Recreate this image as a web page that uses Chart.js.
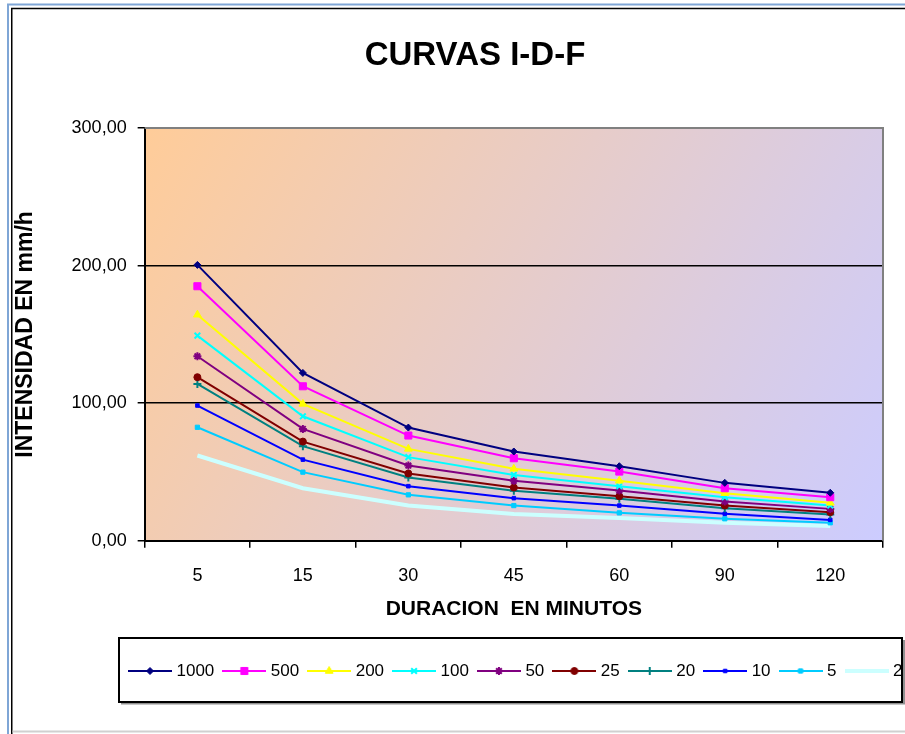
<!DOCTYPE html>
<html><head><meta charset="utf-8">
<script src="https://cdn.jsdelivr.net/npm/chart.js@4.4.1/dist/chart.umd.min.js"></script>
<style>html,body{margin:0;padding:0;background:#fff;overflow:hidden}canvas{display:block}</style>
</head><body>
<canvas id="c" width="905" height="734"></canvas>
<script>
// ---- DATA ----
const durations = ['5', '15', '30', '45', '60', '90', '120'];
const returnPeriods = ['1000', '500', '200', '100', '50', '25', '20', '10', '5', '2'];
const i1000 = [200.5, 122.0, 82.3, 64.9, 54.2, 42.1, 34.9];
const i500  = [185.0, 112.3, 76.5, 60.0, 50.3, 38.2, 31.7];
const i200  = [164.3, 99.5, 66.8, 52.3, 43.6, 34.6, 27.6];
const i100  = [149.1, 90.5, 60.8, 47.9, 39.7, 31.7, 25.6];
const i50   = [134.1, 81.3, 54.7, 43.6, 36.5, 28.6, 23.2];
const i25   = [118.9, 72.1, 48.9, 38.7, 32.4, 25.6, 20.8];
const i20   = [114.0, 68.8, 46.0, 36.3, 30.5, 23.7, 19.1];
const i10   = [98.3, 59.0, 39.7, 31.0, 25.6, 19.6, 15.2];
const i5    = [82.5, 49.9, 33.4, 25.6, 20.3, 16.0, 13.1];
const i2    = [62.0, 38.2, 25.6, 19.4, 16.5, 13.1, 10.7];
const yTicks = [0, 100, 200, 300];

// ---- STYLES ----
const seriesValues = [i1000, i500, i200, i100, i50, i25, i20, i10, i5, i2];
const seriesColors = ['#000080', '#FF00FF', '#FFFF00', '#00FFFF', '#800080', '#800000', '#008080', '#0000FF', '#00CCFF', '#CCFFFF'];
const seriesMarkers = ['rectRot', 'rect', 'triangle', 'crossRot', 'star', 'circle', 'cross', 'rect', 'rect', false];
const markerRadius = [3.5, 5, 4.5, 4, 4, 3.5, 4, 2.5, 3, 0];
const markerBorder = [1, 1, 1, 2, 2, 1, 2, 1, 1, 0];
const lineWidths = [2, 2, 2, 2, 2, 2, 2, 2, 2, 4];
const FONT = '"Liberation Sans", Arial, Helvetica, sans-serif';

function legendSample(i) {
  const cv = document.createElement('canvas');
  cv.width = 44; cv.height = 14;
  const g = cv.getContext('2d');
  g.strokeStyle = seriesColors[i];
  g.lineWidth = lineWidths[i];
  g.beginPath(); g.moveTo(0, 7); g.lineTo(44, 7); g.stroke();
  if (seriesMarkers[i] && Chart.helpers && Chart.helpers.drawPoint) {
    g.fillStyle = seriesColors[i];
    g.strokeStyle = seriesColors[i];
    g.lineWidth = markerBorder[i];
    Chart.helpers.drawPoint(g, {pointStyle: seriesMarkers[i], radius: markerRadius[i], rotation: 0, borderWidth: markerBorder[i]}, 22, 7);
  }
  return cv;
}

const framePlugin = {
  id: 'frame',
  afterLayout(chart) {
    const t = chart.titleBlock;
    if (t) { const dx = 475 - (t.left + t.right) / 2; t.left += dx; t.right += dx; }
    const l = chart.legend;
    if (l) { const dx = 120 - l.left; l.left += dx; l.right += dx; }
  },
  beforeDraw(chart) {
    const ctx = chart.ctx, W = chart.width, H = chart.height;
    ctx.save();
    ctx.fillStyle = '#fff'; ctx.fillRect(0, 0, W, H);
    // outer frame
    ctx.strokeStyle = '#7FA6D6'; ctx.lineWidth = 2;
    ctx.beginPath(); ctx.moveTo(8, H); ctx.lineTo(8, 4.5); ctx.lineTo(W, 4.5); ctx.stroke();
    ctx.strokeStyle = '#000'; ctx.lineWidth = 1.5;
    ctx.beginPath(); ctx.moveTo(11.75, H); ctx.lineTo(11.75, 8.5); ctx.lineTo(W, 8.5); ctx.stroke();
    ctx.strokeStyle = '#D0D0D0'; ctx.lineWidth = 2;
    ctx.beginPath(); ctx.moveTo(12.5, 731.5); ctx.lineTo(W, 731.5); ctx.stroke();
    // plot area gradient
    const a = chart.chartArea;
    const gr = ctx.createLinearGradient(a.left, a.top, a.right, a.bottom);
    gr.addColorStop(0, '#FFCC99');
    gr.addColorStop(1, '#CCCCFF');
    ctx.fillStyle = gr;
    ctx.fillRect(a.left, a.top, a.right - a.left, a.bottom - a.top);
    ctx.restore();
  },
  afterDraw(chart) {
    const ctx = chart.ctx, a = chart.chartArea;
    ctx.save();
    // plot border top/right
    ctx.strokeStyle = '#808080'; ctx.lineWidth = 2;
    ctx.beginPath(); ctx.moveTo(a.left, a.top); ctx.lineTo(a.right, a.top); ctx.lineTo(a.right, a.bottom); ctx.stroke();
    // legend box
    ctx.strokeStyle = '#909090'; ctx.lineWidth = 2;
    ctx.beginPath(); ctx.moveTo(121, 703.5); ctx.lineTo(904, 703.5); ctx.lineTo(904, 640); ctx.stroke();
    ctx.strokeStyle = '#000'; ctx.lineWidth = 2;
    ctx.strokeRect(119, 638, 783, 64);
    ctx.restore();
  }
};

new Chart(document.getElementById('c'), {
  type: 'line',
  data: {
    labels: durations,
    datasets: returnPeriods.map((lbl, i) => ({
      label: lbl,
      data: seriesValues[i],
      borderColor: seriesColors[i],
      backgroundColor: seriesColors[i],
      borderWidth: lineWidths[i],
      pointStyle: seriesMarkers[i] || 'circle',
      pointRadius: markerRadius[i],
      pointBorderWidth: markerBorder[i],
      pointBackgroundColor: seriesColors[i],
      pointBorderColor: seriesColors[i],
      tension: 0,
      fill: false
    }))
  },
  options: {
    responsive: false,
    animation: false,
    devicePixelRatio: 1,
    layout: {padding: {left: 0, right: 22, top: 0, bottom: 44.5}},
    plugins: {
      title: {
        display: true, text: 'CURVAS I-D-F', color: '#000',
        font: {size: 33, weight: 'bold', family: FONT},
        padding: {top: 36.2, bottom: 52.2}
      },
      legend: {
        display: true, position: 'bottom', align: 'start',
        labels: {
          usePointStyle: true, pointStyleWidth: 36, padding: 12, color: '#000',
          font: {size: 17, family: FONT},
          generateLabels(chart) {
            const items = Chart.defaults.plugins.legend.labels.generateLabels(chart);
            items.forEach((it, k) => { it.pointStyle = legendSample(it.datasetIndex != null ? it.datasetIndex : k); });
            return items;
          }
        }
      },
      tooltip: {enabled: false}
    },
    scales: {
      x: {
        type: 'category', offset: true,
        grid: {offset: true, drawOnChartArea: false, color: '#000', tickLength: 7, lineWidth: 1.5},
        border: {color: '#000', width: 2},
        ticks: {font: {size: 18, family: FONT}, color: '#000', padding: 17},
        title: {display: true, text: 'DURACION  EN MINUTOS', color: '#000',
          font: {size: 21, weight: 'bold', family: FONT}, padding: {top: -6.6, bottom: 28.5}}
      },
      y: {
        min: 0, max: 300,
        afterBuildTicks(s) { s.ticks = yTicks.map(v => ({value: v})); },
        grid: {
          color: ctx => (ctx.tick && (ctx.tick.value === 100 || ctx.tick.value === 200)) ? '#000' : 'rgba(0,0,0,0)',
          tickColor: '#000', tickLength: 7, lineWidth: 1.5, tickWidth: 1.5
        },
        border: {color: '#000', width: 2},
        ticks: {font: {size: 18, family: FONT}, color: '#000', padding: 11,
          callback: v => Number(v).toFixed(2).replace('.', ',')},
        title: {display: true, text: 'INTENSIDAD EN mm/h', color: '#000',
          font: {size: 23, weight: 'bold', family: FONT}, padding: {top: 11.4, bottom: 21.6}}
      }
    }
  },
  plugins: [framePlugin]
});
</script>
</body></html>
